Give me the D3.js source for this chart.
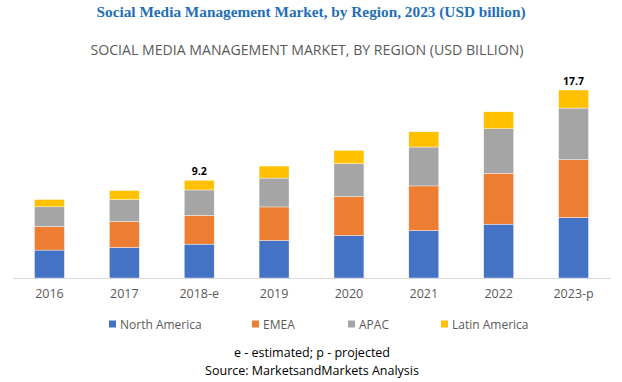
<!DOCTYPE html>
<html>
<head>
<meta charset="utf-8">
<script src="https://cdn.jsdelivr.net/npm/d3@7"></script>
<style>
  body { margin: 0; background: #fff; }
  svg { display: block; }
</style>
</head>
<body>
<div id="chart"></div>
<script>
// values (USD billion)
const years = ["2016", "2017", "2018-e", "2019", "2020", "2021", "2022", "2023-p"];
const regions = ["North America", "EMEA", "APAC", "Latin America"];
const northAmerica = [2.63, 2.87, 3.19, 3.53, 4.0, 4.47, 5.07, 5.69];
const emea = [2.22, 2.44, 2.72, 3.16, 3.66, 4.2, 4.79, 5.45];
const apac = [1.85, 2.07, 2.38, 2.72, 3.1, 3.66, 4.19, 4.86];
const latinAmerica = [0.69, 0.85, 0.91, 1.13, 1.26, 1.44, 1.6, 1.7];
const totalLabels = { "2018-e": "9.2", "2023-p": "17.7" };
const colors = ["#4472c4", "#ed7d31", "#a5a5a5", "#ffc000"];

const width = 622, height = 382;
const baseline = 278;

const rows = years.map((y, i) => ({
  year: y,
  "North America": northAmerica[i],
  "EMEA": emea[i],
  "APAC": apac[i],
  "Latin America": latinAmerica[i]
}));

const stacked = d3.stack().keys(regions)(rows);
const maxTotal = d3.max(stacked[stacked.length - 1], d => d[1]);

const x = d3.scaleBand()
  .domain(years)
  .range([12, 611])
  .paddingInner(0.6)
  .paddingOuter(0.3);

const y = d3.scaleLinear()
  .domain([0, maxTotal])
  .range([baseline, 90]);

const color = d3.scaleOrdinal().domain(regions).range(colors);

const svg = d3.select("#chart")
  .append("svg")
  .attr("width", width)
  .attr("height", height);

svg.append("text")
  .attr("x", 311)
  .attr("y", 17)
  .attr("text-anchor", "middle")
  .attr("textLength", 429)
  .attr("lengthAdjust", "spacingAndGlyphs")
  .style("font-family", "'Liberation Serif', serif")
  .style("font-weight", "bold")
  .style("font-size", "15.5px")
  .style("fill", "#1f6fb6")
  .text("Social Media Management Market, by Region, 2023 (USD billion)");

svg.append("text")
  .attr("x", 307)
  .attr("y", 55)
  .attr("text-anchor", "middle")
  .attr("textLength", 433)
  .attr("lengthAdjust", "spacingAndGlyphs")
  .style("font-family", "'Open Sans', sans-serif")
  .style("font-size", "14px")
  .style("fill", "#595959")
  .text("SOCIAL MEDIA MANAGEMENT MARKET, BY REGION (USD BILLION)");

// bars
svg.append("g")
  .selectAll("g")
  .data(stacked)
  .join("g")
  .attr("fill", d => color(d.key))
  .selectAll("rect")
  .data(d => d)
  .join("rect")
  .attr("x", d => x(d.data.year))
  .attr("y", d => y(d[1]))
  .attr("width", x.bandwidth())
  .attr("height", d => y(d[0]) - y(d[1]))
  .attr("stroke", "#fff")
  .attr("stroke-width", 0.4);

// x axis
const xAxis = svg.append("g")
  .attr("transform", `translate(0,${baseline})`)
  .call(d3.axisBottom(x).tickSize(0).tickPadding(11));
xAxis.select(".domain").attr("stroke", "#d9d9d9").attr("d", "M13,0.5H611");
xAxis.selectAll("text")
  .style("font-family", "'Open Sans', sans-serif")
  .style("font-size", "12.5px")
  .style("fill", "#595959");

// total labels
const topLayer = stacked[stacked.length - 1];
svg.append("g")
  .selectAll("text")
  .data(topLayer.filter(d => totalLabels[d.data.year]))
  .join("text")
  .attr("x", d => x(d.data.year) + x.bandwidth() / 2)
  .attr("y", d => y(d[1]) - 5)
  .attr("text-anchor", "middle")
  .style("font-family", "'Open Sans', sans-serif")
  .style("font-weight", "bold")
  .style("font-size", "10.5px")
  .style("fill", "#000")
  .text(d => totalLabels[d.data.year]);

// legend
const legendX = [109, 252, 348, 441];
const legend = svg.append("g")
  .selectAll("g")
  .data(regions)
  .join("g")
  .attr("transform", (d, i) => `translate(${legendX[i]},324)`);
legend.append("rect")
  .attr("x", 0)
  .attr("y", -3.5)
  .attr("width", 7)
  .attr("height", 7)
  .attr("fill", d => color(d));
legend.append("text")
  .attr("x", 11)
  .attr("y", 4.5)
  .style("font-family", "'Open Sans', sans-serif")
  .style("font-size", "12px")
  .style("fill", "#595959")
  .text(d => d);

// footer
svg.append("text")
  .attr("x", 312)
  .attr("y", 357)
  .attr("text-anchor", "middle")
  .style("font-family", "'Open Sans', sans-serif")
  .style("font-size", "12.5px")
  .style("fill", "#000")
  .text("e - estimated; p - projected");
svg.append("text")
  .attr("x", 312)
  .attr("y", 375)
  .attr("text-anchor", "middle")
  .style("font-family", "'Open Sans', sans-serif")
  .style("font-size", "12.5px")
  .style("fill", "#000")
  .text("Source: MarketsandMarkets Analysis");
</script>
</body>
</html>
